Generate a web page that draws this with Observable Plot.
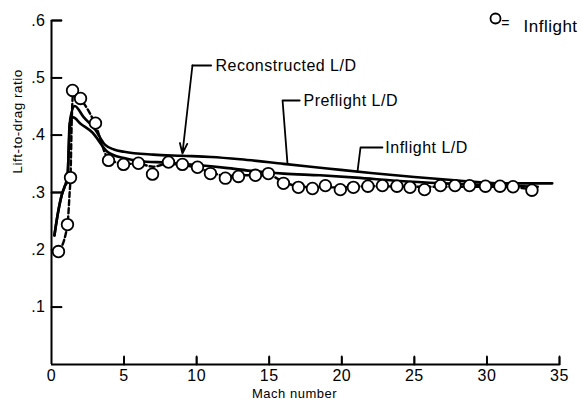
<!DOCTYPE html>
<html><head><meta charset="utf-8">
<script src="https://cdn.jsdelivr.net/npm/d3@7"></script>
<script src="https://cdn.jsdelivr.net/npm/@observablehq/plot@0.6"></script>
<style>
body{margin:0;background:#fff;}
#wrap{width:582px;height:406px;}
</style></head><body><div id="wrap"></div>
<script>
// Inflight measured points
const inflightMach = [0.48,1.10,1.31,1.45,2.0,3.03,3.93,4.96,5.99,6.96,8.06,9.02,10.06,10.95,11.98,12.88,14.05,14.94,15.98,17.01,17.98,18.87,19.9,20.8,21.8,22.8,23.8,24.7,25.7,26.8,27.8,28.8,29.9,30.9,31.8,33.1];
const inflightLD   = [0.197,0.244,0.326,0.478,0.464,0.421,0.356,0.349,0.351,0.332,0.353,0.349,0.344,0.333,0.325,0.328,0.330,0.333,0.316,0.309,0.307,0.312,0.305,0.309,0.311,0.312,0.311,0.309,0.305,0.312,0.312,0.312,0.311,0.311,0.310,0.304];
// Reconstructed L/D (upper solid curve)
const reconMach = [0.2,0.45,0.7,0.9,1.1,1.3,1.6,2.2,3.0,3.7,4.3,5,7,9,11,13,16,19,22,25,28,31,34.5];
const reconLD   = [0.225,0.265,0.295,0.31,0.33,0.43,0.451,0.432,0.41,0.383,0.375,0.371,0.366,0.364,0.362,0.358,0.350,0.342,0.334,0.327,0.321,0.316,0.316];
// Preflight L/D (lower solid curve)
const preMach = [0.2,0.45,0.7,0.9,1.1,1.25,1.5,2.0,2.8,3.9,5,6,8,10,12,14,16,18.5,21,24,27,30,33.5];
const preLD   = [0.225,0.265,0.295,0.31,0.32,0.42,0.431,0.42,0.405,0.37,0.36,0.355,0.352,0.348,0.343,0.337,0.333,0.33,0.326,0.32,0.316,0.313,0.31];
// Inflight L/D (dashed curve through the points)
const inflMach = [0.5,1.1,1.25,1.31,1.4,1.5,2.0,3.0,3.9,5,6,7,8,9,10,11,12,13,14,15,16,17,18,20,22,25,28,31,33];
const inflLD   = [0.197,0.244,0.30,0.326,0.43,0.475,0.463,0.42,0.36,0.35,0.35,0.345,0.35,0.348,0.343,0.335,0.329,0.33,0.33,0.33,0.318,0.311,0.309,0.309,0.311,0.31,0.31,0.31,0.306];

const xTicks = [0,5,10,15,20,25,30,35];
const yTicks = [0.1,0.2,0.3,0.4,0.5,0.6];
const yTickLabels = [".1",".2",".3",".4",".5",".6"];

const annotations = [
  {text:"Reconstructed L/D", x:11.3, y:0.5215},
  {text:"Preflight L/D", x:17.36, y:0.4605},
  {text:"Inflight L/D", x:23.0, y:0.3785}
];
const leaders = [
  {g:"r", x:11.0, y:0.5215},{g:"r", x:9.71, y:0.5215},
  {g:"p", x:17.1, y:0.4605},{g:"p", x:15.92, y:0.4605},{g:"p", x:16.26, y:0.350},
  {g:"i", x:22.8, y:0.3785},{g:"i", x:21.29, y:0.3785},{g:"i", x:21.08, y:0.336}
];
const arrows = [{x1:9.71, y1:0.5215, x2:9.02, y2:0.368}];

const toRows = (xs, ys) => xs.map((x,i)=>({x, y:ys[i]}));
const FONT = '"Liberation Sans",Arial,sans-serif';
const W = 582, H = 406, ML = 51, MR = 23, MT = 20, MB = 42;
const PW = W-ML-MR, PH = H-MT-MB;
const XD = [0,35], YD = [0,0.6];
// inward tick lengths (pixels) converted to data units
const xTickLen = 8 * (YD[1]-YD[0]) / PH;
const yTickLen = 10 * (XD[1]-XD[0]) / PW;
const tickSegs = [
  ...xTicks.slice(1).map(t => ({x1:t, y1:0, x2:t, y2:xTickLen})),
  ...yTicks.map(t => ({x1:0, y1:t, x2:yTickLen, y2:t}))
];

const chart = Plot.plot({
  width:W, height:H,
  marginLeft:ML, marginRight:MR, marginTop:MT, marginBottom:MB,
  style:{fontFamily:FONT, fontSize:"16px", color:"#000", background:"#fff", letterSpacing:"0.5px"},
  x:{domain:XD},
  y:{domain:YD},
  marks:[
    Plot.ruleX([0], {y1:0, y2:0.6, strokeWidth:2}),
    Plot.ruleY([0], {x1:0, x2:35, strokeWidth:2}),
    // inward ticks: right-anchored y axis shifted onto the left edge, top-anchored x axis shifted onto the bottom
    Plot.axisY({anchor:"right", ticks:yTicks, tickSize:10, dx:-PW, tickFormat:()=>"", strokeWidth:1.8, label:null}),
    Plot.axisX({anchor:"top", ticks:xTicks.slice(1), tickSize:8, dy:PH, tickFormat:()=>"", strokeWidth:1.8, label:null}),
    Plot.arrow(tickSegs, {x1:"x1", y1:"y1", x2:"x2", y2:"y2", headLength:0, stroke:"#000", strokeWidth:1.8}),
    Plot.axisX({ticks:xTicks, tickSize:0, tickPadding:5, fontSize:16, label:null}),
    Plot.axisY({ticks:yTicks, tickSize:0, tickPadding:6, fontSize:16, label:null, tickFormat:(d)=>yTickLabels[yTicks.indexOf(d)]}),
    Plot.text(["Mach number"], {frameAnchor:"bottom", dy:33, dx:-11, fontSize:13}),
    Plot.text(["Lift-to-drag ratio"], {frameAnchor:"left", rotate:-90, dx:-34, dy:-19, fontSize:13.5}),
    Plot.line(toRows(inflMach, inflLD), {x:"x", y:"y", stroke:"#000", strokeWidth:2.4, strokeDasharray:"5,3", curve:"monotone-x"}),
    Plot.line(toRows(preMach, preLD), {x:"x", y:"y", stroke:"#000", strokeWidth:2.6, curve:"monotone-x"}),
    Plot.line(toRows(reconMach, reconLD), {x:"x", y:"y", stroke:"#000", strokeWidth:2.6, curve:"monotone-x"}),
    Plot.dot(toRows(inflightMach, inflightLD), {x:"x", y:"y", r:5.8, fill:"#fff", stroke:"#000", strokeWidth:1.8}),
    Plot.line(leaders, {x:"x", y:"y", z:"g", stroke:"#000", strokeWidth:1.8}),
    Plot.arrow(arrows, {x1:"x1", y1:"y1", x2:"x2", y2:"y2", stroke:"#000", strokeWidth:1.8, headLength:9, headAngle:40}),
    Plot.text(annotations, {x:"x", y:"y", text:"text", textAnchor:"start", fontSize:16}),
    // legend
    Plot.dot([0], {frameAnchor:"top-right", dx:-64, dy:-2, r:5, fill:"#fff", stroke:"#000", strokeWidth:1.8}),
    Plot.text(["="], {frameAnchor:"top-right", dx:-54, dy:-2, textAnchor:"middle", fontSize:14}),
    Plot.text(["Inflight"], {frameAnchor:"top-right", dx:-36, dy:-1, textAnchor:"start", fontSize:17})
  ]
});
document.getElementById("wrap").appendChild(chart);
</script>
</body></html>
